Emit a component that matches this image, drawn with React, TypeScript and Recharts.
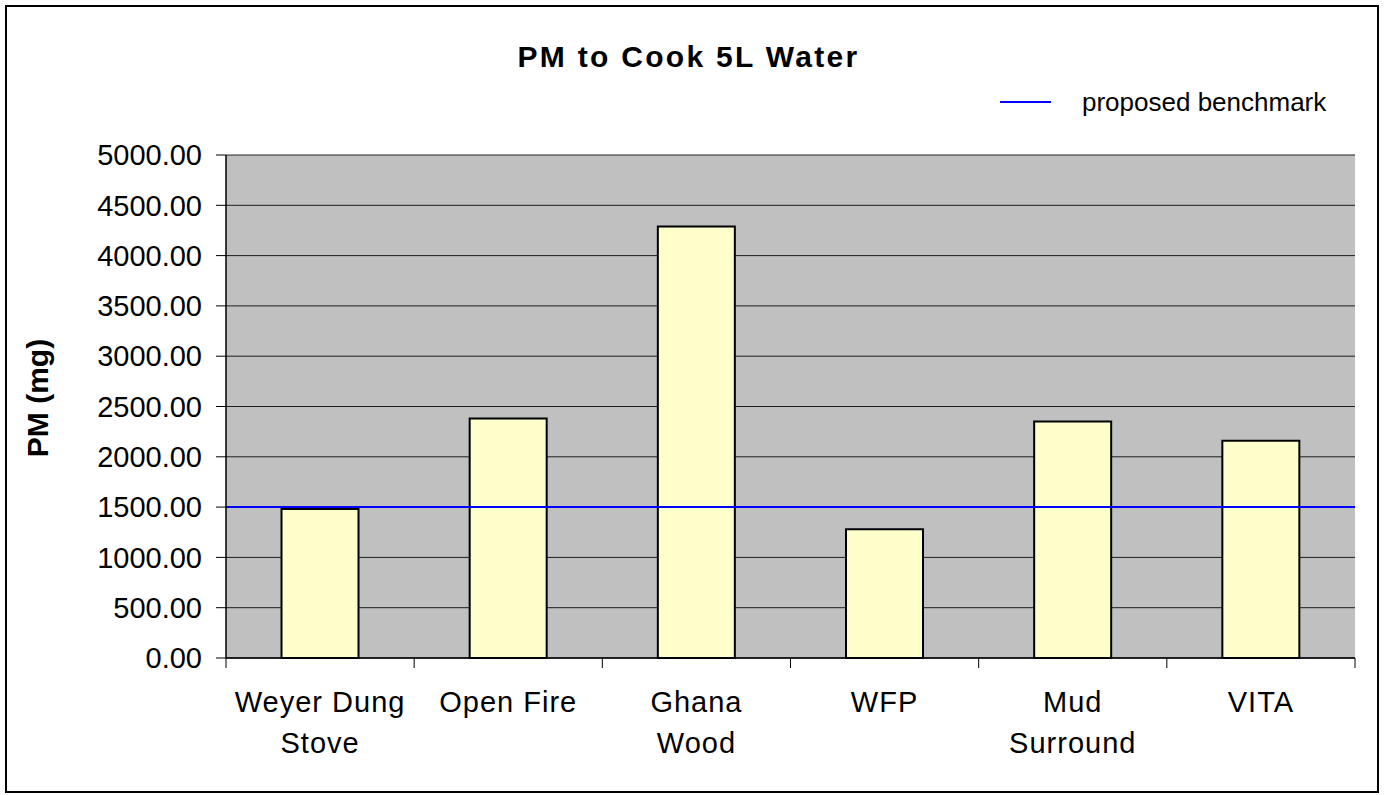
import { Bar, BarChart, CartesianGrid, ReferenceLine, XAxis, YAxis } from "recharts";

// stove names, "\n" marks where the label wraps
const categories = ["Weyer Dung\nStove", "Open Fire", "Ghana\nWood", "WFP", "Mud\nSurround", "VITA"];
const pmValues = [1480, 2380, 4290, 1280, 2350, 2160];
const yTicks = [0, 500, 1000, 1500, 2000, 2500, 3000, 3500, 4000, 4500, 5000];
const benchmark = 1500;

const data = categories.map((name, i) => ({ name, pm: pmValues[i] }));

const W = 1384;
const H = 795;
const PLOT_LEFT = 226;
const PLOT_RIGHT = 1355;
const PLOT_TOP = 155;
const PLOT_BOTTOM = 658;
const BAND = (PLOT_RIGHT - PLOT_LEFT) / categories.length;
const FONT = "'Liberation Sans', Arial, sans-serif";

function CategoryTick(props: any) {
  const { x, y, payload, index } = props;
  const lines = String(payload.value).split("\n");
  return (
    <g>
      <line x1={x - BAND / 2} x2={x - BAND / 2} y1={y} y2={y + 10} stroke="#000" />
      {index === categories.length - 1 && (
        <line x1={x + BAND / 2} x2={x + BAND / 2} y1={y} y2={y + 10} stroke="#000" />
      )}
      <text x={x} y={y + 54} textAnchor="middle" fontSize={29} letterSpacing={1} fontFamily={FONT} fill="#000">
        {lines.map((l, i) => (
          <tspan key={i} x={x} dy={i === 0 ? 0 : 41}>{l}</tspan>
        ))}
      </text>
    </g>
  );
}

export default function App() {
  return (
    <div style={{ position: "absolute", left: 0, top: 0, width: W, height: H, background: "#fff", fontFamily: FONT }}>
      <div style={{ position: "absolute", left: 5, top: 5, width: 1374, height: 788, border: "2px solid #000", boxSizing: "border-box" }} />
      <div style={{ position: "absolute", left: 0, top: 38, width: 1377, textAlign: "center", fontWeight: "bold", fontSize: 30, lineHeight: "38px", letterSpacing: 2.3 }}>
        PM to Cook 5L Water
      </div>
      <div style={{ position: "absolute", left: 1000, top: 101, width: 51, height: 2, background: "#0000ff" }} />
      <div style={{ position: "absolute", left: 1082, top: 86, fontSize: 26, lineHeight: "32px" }}>proposed benchmark</div>
      <div style={{ position: "absolute", left: 38, top: 398, width: 0, height: 0 }}>
        <div style={{ position: "absolute", transform: "translate(-50%, -50%) rotate(-90deg)", whiteSpace: "nowrap", fontWeight: "bold", fontSize: 30 }}>
          PM (mg)
        </div>
      </div>
      <div style={{ position: "absolute", left: 0, top: 0 }}>
        <BarChart
          width={W}
          height={H}
          data={data}
          margin={{ top: PLOT_TOP, right: W - PLOT_RIGHT, bottom: 0, left: 0 }}
          barCategoryGap="29.5%"
        >
          <CartesianGrid vertical={false} fill="#c0c0c0" stroke="#000" strokeOpacity={0.85} />
          <XAxis
            dataKey="name"
            height={H - PLOT_BOTTOM}
            axisLine={{ stroke: "#000", strokeWidth: 1.5 }}
            tickLine={false}
            tickSize={0}
            tickMargin={0}
            interval={0}
            tick={<CategoryTick />}
          />
          <YAxis
            width={PLOT_LEFT}
            domain={[0, 5000]}
            ticks={yTicks}
            interval={0}
            tickFormatter={(v: number) => v.toFixed(2)}
            axisLine={{ stroke: "#000", strokeWidth: 1.5 }}
            tickLine={{ stroke: "#000" }}
            tickSize={10}
            tickMargin={14}
            tick={{ fill: "#000", fontSize: 29, fontFamily: FONT }}
          />
          <Bar dataKey="pm" fill="#ffffcc" stroke="#000" strokeWidth={2} isAnimationActive={false} />
          <ReferenceLine y={benchmark} stroke="#0000ff" strokeWidth={2} />
        </BarChart>
      </div>
    </div>
  );
}
